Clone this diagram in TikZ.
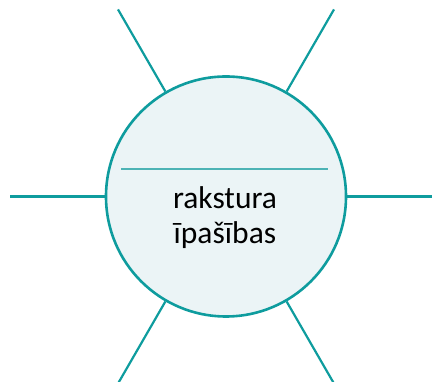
\documentclass[tikz,border=0pt]{standalone}
\usepackage{fontspec}
\setmainfont{Carlito}
\definecolor{rim}{HTML}{0E9C9E}
\definecolor{rimlight}{HTML}{4DB3B5}
\definecolor{corefill}{HTML}{EBF4F6}
\begin{document}
\begin{tikzpicture}[x=1pt,y=1pt,
  spoke/.style={draw=rim, line width=2.2pt},
  word/.style={font=\fontsize{31.5}{36}\selectfont, text=black, inner sep=0pt, anchor=base}]
  \useasboundingbox (0,0) rectangle (432,382);

  % Draw hub
  \node[circle, draw=rim, fill=corefill, line width=2.6pt, minimum size=240pt, inner sep=0pt] (hub) at (226,185.5) {};

  % Draw spokes
  \foreach \a in {0,60,...,300} {
    \coordinate (end\a) at ([shift={(\a:216)}]hub.center);
    \draw[spoke] (hub.\a) -- (end\a);
  }

  % Divider
  \coordinate (rule west) at ([shift={(-105,27.5)}]hub.center);
  \coordinate (rule east) at ([shift={(102,27.5)}]hub.center);
  \draw[rimlight, line width=1.2pt] (rule west) -- (rule east);

  % Label
  \node[word] (top) at ([shift={(-1,-11.8)}]hub.center) {rakstura};
  \node[word] (bottom) at ([shift={(-1,-46.8)}]hub.center) {īpašības};
\end{tikzpicture}
\end{document}
